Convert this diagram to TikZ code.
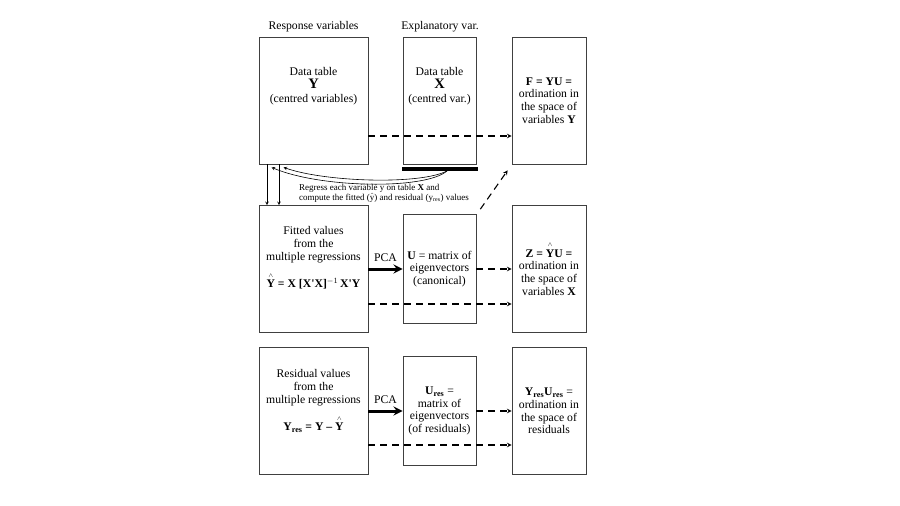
\documentclass[tikz,border=0pt]{standalone}
\usepackage{amsmath}
\usepackage{fontspec}
\setmainfont{Liberation Serif}
\usetikzlibrary{arrows,positioning,calc}
\tikzstyle{arrow} = [thick,->,>=stealth]
\newcommand{\hatY}{\ensuremath{\overset{\scriptscriptstyle\wedge}{\textbf{Y}}}}
\newcommand{\tq}{\textquotesingle}

\begin{document}
\begin{tikzpicture}[x=1pt, y=-1pt, >=stealth,
    every node/.style={font=\fontsize{11.7}{12.8}\selectfont},
    box/.style={draw=black!75, line width=0.7pt, align=center, inner sep=0pt},
    bigbox/.style={box, minimum width=109pt, minimum height=127pt},
    tabbox/.style={box, minimum width=73pt, minimum height=127pt},
    outbox/.style={box, minimum width=74pt, minimum height=127pt},
    eigbox/.style={box, minimum width=73pt, minimum height=109pt},
    txt/.style={align=center, inner sep=0pt},
    dasharrow/.style={->, dashed, dash pattern=on 7pt off 5pt, line width=1.1pt},
    pcaarrow/.style={->, line width=3pt},
    thinarrow/.style={->, line width=0.6pt}]
\useasboundingbox (0,0) rectangle (900,506);

% column titles
\node[txt] (resp) at (313.5,27) {Response variables};
\node[txt] (expl) at (440,27) {Explanatory var.};

% top row
\node[bigbox] (Y) at (313.5,100.5) {};
\node[txt] (Ytxt) at (313.5,86) {Data table\\[1pt] {\fontsize{14.5}{15}\selectfont\bfseries Y}\\[1pt] (centred variables)};
\node[tabbox] (X) at (439.5,100.5) {};
\node[txt] (Xtxt) at (439.5,86) {Data table\\[1pt] {\fontsize{14.5}{15}\selectfont\bfseries X}\\[1pt] (centred var.)};
\node[outbox] (F) at (549,100.5) {\textbf{F = YU =}\\ ordination in\\ the space of\\ variables \textbf{Y}};
\node[fill, minimum width=76pt, minimum height=3.5pt, inner sep=0pt] (bar) at (440,169) {};

% middle row
\node[bigbox] (Fit) at (313.5,269) {};
\node[txt] (Fittxt) at (313.5,258) {Fitted values\\ from the\\ multiple regressions\\[9pt] \textbf{\hatY{} = X [X\tq X]}$^{-1}$\,\textbf{X\tq Y}};
\node[eigbox] (U) at (439.5,269) {\textbf{U} = matrix of\\ eigenvectors\\ (canonical)};
\node[outbox] (Z) at (549,269) {\textbf{Z = \hatY U =}\\ ordination in\\ the space of\\ variables \textbf{X}};

% bottom row
\node[bigbox] (Res) at (313.5,411) {};
\node[txt] (Restxt) at (313.5,401) {Residual values\\ from the\\ multiple regressions\\[9pt] \textbf{Y\textsubscript{res} = Y -- \hatY}};
\node[eigbox] (Ures) at (439.5,411) {\textbf{U\textsubscript{res}} =\\ matrix of\\ eigenvectors\\ (of residuals)};
\node[outbox] (Yres) at (549,411) {\textbf{Y\textsubscript{res}U\textsubscript{res}} =\\ ordination in\\ the space of\\ residuals};

% regression step
\draw[thinarrow] ($(bar.south)+(7,0)$) .. controls (425,190) and (320,188) .. ($(Y.south)+(-42,3)$);
\draw[thinarrow] ($(bar.south)+(7,0)$) .. controls (420,185) and (325,182) .. ($(Y.south)+(-30,3)$);
\draw[thinarrow] ($(Y.south)+(-46.5,0)$) -- ($(Fit.north)+(-46.5,0)$);
\draw[thinarrow] ($(Y.south)+(-34.5,0)$) -- ($(Fit.north)+(-34.5,0)$);
\node[txt, anchor=west, align=left, font=\fontsize{9}{10}\selectfont] (reg) at (299,193)
  {Regress each variable y on table \textbf{X} and\\ compute the fitted ($\hat{\mathrm{y}}$) and residual (y\textsubscript{res}) values};

% ordinations
\draw[dasharrow] ($(Y.east)+(0,35.5)$) -- ($(F.west)+(0,35.5)$);
\draw[dasharrow] ($(U.north east)+(4,-5)$) -- ($(F.south west)+(-4,6)$);
\draw[pcaarrow] (Fit.east) -- node[above=3pt] {PCA} (U.west);
\draw[dasharrow] (U.east) -- (Z.west);
\draw[dasharrow] ($(Fit.east)+(0,35)$) -- ($(Z.west)+(0,35)$);
\draw[pcaarrow] (Res.east) -- node[above=3pt] {PCA} (Ures.west);
\draw[dasharrow] (Ures.east) -- (Yres.west);
\draw[dasharrow] ($(Res.east)+(0,34)$) -- ($(Yres.west)+(0,34)$);
\end{tikzpicture}
\end{document}
